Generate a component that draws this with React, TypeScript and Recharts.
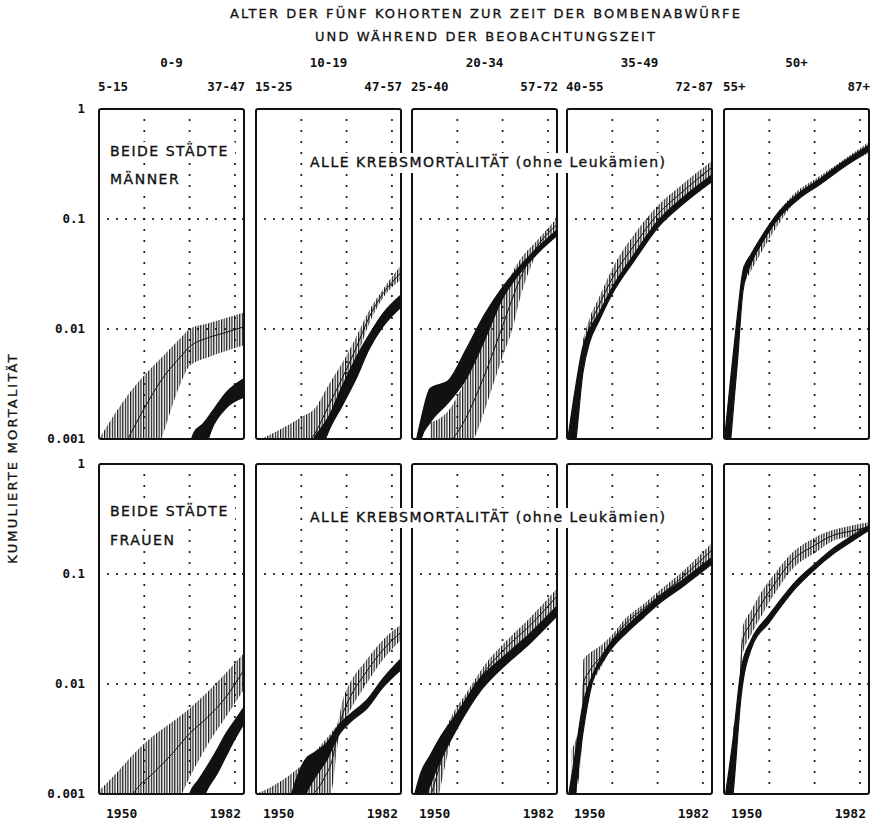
import React from "react";
import { ComposedChart, Area, Line, XAxis, YAxis, ReferenceLine, ReferenceArea } from "recharts";

// observed (hatched band): [year, low, middle, high]
// expected (black band):   [year, low, high]
const M1_OBS = [
  [1950, 0.00004, 0.00025, 0.001],
  [1953, 0.00008, 0.0005, 0.00158],
  [1956, 0.00016, 0.00093, 0.0024],
  [1960, 0.0004, 0.0019, 0.0038],
  [1964, 0.00107, 0.00355, 0.0056],
  [1968, 0.0032, 0.0056, 0.0083],
  [1970, 0.0046, 0.0069, 0.01],
  [1974, 0.0055, 0.0083, 0.0112],
  [1978, 0.0063, 0.0093, 0.0126],
  [1982, 0.0071, 0.0105, 0.0141],
];
const M1_EXP = [
  [1970, 0.00025, 0.00089],
  [1971, 0.00035, 0.00115],
  [1973, 0.00071, 0.00138],
  [1975, 0.00126, 0.00178],
  [1978, 0.0019, 0.00263],
  [1982, 0.0024, 0.00355],
];
const M2_OBS = [
  [1950, 0.0001, 0.00032, 0.00095],
  [1955, 0.0002, 0.0005, 0.0012],
  [1960, 0.0004, 0.00079, 0.00158],
  [1963, 0.00063, 0.00112, 0.0019],
  [1966, 0.00126, 0.002, 0.0031],
  [1969, 0.0025, 0.00355, 0.0049],
  [1972, 0.0051, 0.0066, 0.0083],
  [1975, 0.0112, 0.0129, 0.0148],
  [1978, 0.019, 0.0209, 0.0229],
  [1982, 0.028, 0.0324, 0.038],
];
const M2_EXP = [
  [1962, 0.00032, 0.00089],
  [1963, 0.0005, 0.00105],
  [1966, 0.00117, 0.00158],
  [1969, 0.002, 0.003],
  [1972, 0.00347, 0.0054],
  [1975, 0.0066, 0.0089],
  [1978, 0.0105, 0.0138],
  [1982, 0.0158, 0.0204],
];
const M3_OBS = [
  [1954, 0.00025, 0.00063, 0.00141],
  [1958, 0.0004, 0.00089, 0.0018],
  [1962, 0.00071, 0.00158, 0.00355],
  [1964, 0.00107, 0.0024, 0.0052],
  [1966, 0.0018, 0.0038, 0.0079],
  [1968, 0.0032, 0.0063, 0.0126],
  [1970, 0.0056, 0.0107, 0.02],
  [1972, 0.0095, 0.0182, 0.0316],
  [1974, 0.02, 0.0295, 0.0437],
  [1977, 0.0437, 0.0513, 0.06],
  [1982, 0.079, 0.089, 0.102],
];
const M3_EXP = [
  [1950.5, 0.00016, 0.00079],
  [1952, 0.001, 0.00151],
  [1954, 0.00141, 0.00288],
  [1958, 0.00214, 0.00339],
  [1962, 0.00355, 0.0066],
  [1966, 0.0079, 0.0135],
  [1970, 0.019, 0.024],
  [1974, 0.0331, 0.038],
  [1978, 0.0501, 0.0562],
  [1982, 0.0708, 0.0794],
];
const M4_OBS = [
  [1953.5, 0.005, 0.0063, 0.0079],
  [1955, 0.0089, 0.0107, 0.0126],
  [1957, 0.0138, 0.0162, 0.0191],
  [1960, 0.024, 0.029, 0.0355],
  [1965, 0.0479, 0.0589, 0.0741],
  [1970, 0.0912, 0.11, 0.132],
  [1975, 0.148, 0.17, 0.2],
  [1982, 0.251, 0.295, 0.339],
];
const M4_EXP = [
  [1950, 0.00025, 0.00089],
  [1952, 0.001, 0.00316],
  [1953.5, 0.00398, 0.0069],
  [1955, 0.0076, 0.01],
  [1957, 0.0117, 0.0138],
  [1960, 0.0209, 0.024],
  [1965, 0.0427, 0.049],
  [1970, 0.0832, 0.0955],
  [1976, 0.141, 0.162],
  [1982, 0.219, 0.251],
];
const M5_OBS = [
  [1954, 0.024, 0.0295, 0.0355],
  [1958, 0.0479, 0.0575, 0.0676],
  [1962, 0.0891, 0.102, 0.117],
  [1966, 0.148, 0.162, 0.178],
  [1970, 0.2, 0.214, 0.229],
  [1975, 0.275, 0.295, 0.316],
  [1982, 0.398, 0.447, 0.501],
];
const M5_EXP = [
  [1950, 0.00016, 0.00089],
  [1951.5, 0.001, 0.00363],
  [1953, 0.00525, 0.0138],
  [1954.2, 0.0224, 0.0339],
  [1956, 0.0398, 0.0479],
  [1958, 0.0575, 0.0661],
  [1962, 0.102, 0.115],
  [1967, 0.158, 0.178],
  [1971, 0.204, 0.229],
  [1976, 0.288, 0.324],
  [1982, 0.417, 0.468],
];
const F1_OBS = [
  [1950, 0.000063, 0.00025, 0.00107],
  [1954, 0.0001, 0.0005, 0.00158],
  [1958, 0.00016, 0.00107, 0.0024],
  [1962, 0.00032, 0.00155, 0.00339],
  [1966, 0.00063, 0.00229, 0.00447],
  [1970, 0.00141, 0.00355, 0.006],
  [1974, 0.00282, 0.005, 0.0085],
  [1978, 0.005, 0.0076, 0.0126],
  [1982, 0.0089, 0.0135, 0.0191],
];
const F1_EXP = [
  [1969.5, 0.00032, 0.00079],
  [1970, 0.0004, 0.001],
  [1972, 0.00071, 0.00135],
  [1974, 0.00112, 0.00182],
  [1976, 0.00151, 0.00251],
  [1978, 0.00219, 0.00355],
  [1980, 0.00316, 0.00468],
  [1982, 0.00437, 0.00617],
];
const F2_OBS = [
  [1950, 0.0001, 0.00032, 0.001],
  [1954, 0.00016, 0.00045, 0.0012],
  [1958, 0.00025, 0.00063, 0.00155],
  [1962, 0.0004, 0.00093, 0.00219],
  [1965, 0.00063, 0.00138, 0.003],
  [1967, 0.00126, 0.00219, 0.0038],
  [1968, 0.00282, 0.00355, 0.00437],
  [1969, 0.00398, 0.0051, 0.0068],
  [1971, 0.006, 0.0079, 0.0107],
  [1974, 0.0095, 0.0123, 0.0158],
  [1978, 0.0166, 0.0204, 0.0251],
  [1982, 0.0251, 0.0295, 0.0347],
];
const F2_EXP = [
  [1957.5, 0.00032, 0.00089],
  [1959, 0.00056, 0.00141],
  [1961, 0.001, 0.00209],
  [1963, 0.00141, 0.0024],
  [1965.5, 0.002, 0.00288],
  [1968.5, 0.00355, 0.00437],
  [1971, 0.00457, 0.0054],
  [1974.5, 0.006, 0.0072],
  [1978, 0.0093, 0.0112],
  [1982, 0.0135, 0.017],
];
const F3_OBS = [
  [1953.5, 0.00032, 0.00079, 0.00141],
  [1955, 0.00063, 0.00126, 0.00224],
  [1957, 0.00158, 0.0024, 0.00355],
  [1959, 0.00355, 0.00437, 0.00537],
  [1962, 0.0063, 0.0072, 0.0083],
  [1966, 0.0112, 0.0129, 0.0148],
  [1971, 0.0186, 0.0219, 0.0251],
  [1976, 0.0282, 0.0339, 0.0398],
  [1982, 0.0525, 0.0631, 0.0741],
];
const F3_EXP = [
  [1950, 0.00032, 0.00079],
  [1952, 0.00071, 0.00158],
  [1954, 0.0012, 0.00224],
  [1956, 0.0019, 0.00316],
  [1960, 0.00398, 0.0055],
  [1965, 0.0085, 0.0112],
  [1970, 0.0141, 0.0174],
  [1975, 0.0214, 0.0263],
  [1982, 0.0417, 0.0513],
];
const F4_OBS = [
  [1951, 0.00063, 0.00126, 0.00251],
  [1953.4, 0.00316, 0.00447, 0.0063],
  [1953.6, 0.0056, 0.01, 0.0166],
  [1955, 0.0089, 0.0132, 0.0191],
  [1957.5, 0.0141, 0.0178, 0.0224],
  [1960, 0.0219, 0.0251, 0.0282],
  [1963, 0.0316, 0.0355, 0.0398],
  [1967, 0.0437, 0.049, 0.0537],
  [1971, 0.0589, 0.0661, 0.0741],
  [1976, 0.0871, 0.0977, 0.11],
  [1982, 0.141, 0.166, 0.191],
];
const F4_EXP = [
  [1950, 0.00025, 0.00079],
  [1951.7, 0.00089, 0.00214],
  [1953.5, 0.00355, 0.00646],
  [1955.5, 0.01, 0.0117],
  [1958, 0.0162, 0.0186],
  [1960, 0.0214, 0.0245],
  [1963, 0.0288, 0.0331],
  [1967, 0.0407, 0.0468],
  [1970, 0.0525, 0.0603],
  [1976, 0.0794, 0.0912],
  [1982, 0.123, 0.141],
];
const F5_OBS = [
  [1952, 0.00158, 0.00251, 0.00398],
  [1953.6, 0.0079, 0.01, 0.0126],
  [1954, 0.0178, 0.024, 0.0316],
  [1956, 0.0282, 0.0363, 0.0468],
  [1958, 0.0398, 0.0513, 0.0661],
  [1961.5, 0.0692, 0.0851, 0.105],
  [1965, 0.11, 0.132, 0.155],
  [1970, 0.155, 0.182, 0.214],
  [1974, 0.2, 0.224, 0.251],
  [1978, 0.219, 0.245, 0.275],
  [1982, 0.24, 0.269, 0.295],
];
const F5_EXP = [
  [1950, 0.00025, 0.00079],
  [1952, 0.001, 0.00316],
  [1953.8, 0.0079, 0.0138],
  [1956, 0.0209, 0.0251],
  [1960, 0.0363, 0.0427],
  [1966, 0.0759, 0.0871],
  [1970, 0.11, 0.123],
  [1974, 0.151, 0.17],
  [1978, 0.195, 0.219],
  [1982, 0.251, 0.275],
];

const AGE_GROUPS = ["0-9", "10-19", "20-34", "35-49", "50+"];
const AGE_FIRST = ["5-15", "15-25", "25-40", "40-55", "55+"];
const AGE_LAST = ["37-47", "47-57", "57-72", "72-87", "87+"];
const YEAR_TICKS = [1950, 1982];
const Y_TICKS = [0.001, 0.01, 0.1, 1];
const GRID_YEARS = [1960, 1970, 1980];
const GRID_LEVELS = [0.01, 0.1];

const MEN = [
  [M1_OBS, M1_EXP],
  [M2_OBS, M2_EXP],
  [M3_OBS, M3_EXP],
  [M4_OBS, M4_EXP],
  [M5_OBS, M5_EXP],
];
const WOMEN = [
  [F1_OBS, F1_EXP],
  [F2_OBS, F2_EXP],
  [F3_OBS, F3_EXP],
  [F4_OBS, F4_EXP],
  [F5_OBS, F5_EXP],
];

const INK = "#111";
const MONO = "'DejaVu Sans Mono', monospace";
const SANS = "'DejaVu Sans', sans-serif";
const LEFTS = [99, 256, 412, 567, 724];
const PLOT_W = 145;
const PLOT_H = 330;
const AXIS_H = 30;
const PAD = 10; // room for the y tick labels at the plot edges

function xTick(labels: string[], bottom: boolean) {
  return (props: any) => {
    const { x, y, payload } = props;
    const isFirst = payload.value === YEAR_TICKS[0];
    const dx = isFirst ? (bottom ? 7 : -1) : bottom ? -3 : 1;
    return (
      <text
        x={x + dx}
        y={bottom ? y + 10 : y}
        textAnchor={isFirst ? "start" : "end"}
        fontFamily={MONO}
        fontSize={bottom ? 13 : 12.5}
        fontWeight="bold"
        fill={INK}
      >
        {isFirst ? labels[0] : labels[1]}
      </text>
    );
  };
}

function Panel({ index, bottom, obs, exp }: { index: number; bottom: boolean; obs: number[][]; exp: number[][] }) {
  const first = index === 0;
  const yW = first ? 97 : 0;
  const width = PLOT_W + 4 + yW;
  const height = PLOT_H + AXIS_H + PAD;
  const top = bottom ? 464 - PAD : 109 - AXIS_H;
  const left = LEFTS[index] - 2 - yW;
  const margin = bottom
    ? { top: PAD, right: 2, bottom: 0, left: 2 }
    : { top: 0, right: 2, bottom: PAD, left: 2 };

  const obsData = obs.map(([x, lo, mid, hi]) => ({ x, band: [lo, hi], mid }));
  const expData = exp.map(([x, lo, hi]) => ({ x, band: [lo, hi] }));
  const pid = `hatch-${bottom ? "f" : "m"}-${index}`;
  const labels = bottom ? YEAR_TICKS.map(String) : [AGE_FIRST[index], AGE_LAST[index]];

  return (
    <div style={{ position: "absolute", left, top }}>
      <ComposedChart width={width} height={height} margin={margin}>
        <defs>
          <pattern id={pid} patternUnits="userSpaceOnUse" width={2.6} height={8}>
            <rect x={0} y={0} width={1.2} height={8} fill={INK} />
          </pattern>
        </defs>
        <XAxis
          type="number"
          dataKey="x"
          domain={[1950, 1982]}
          allowDataOverflow
          ticks={YEAR_TICKS}
          interval={0}
          orientation={bottom ? "bottom" : "top"}
          height={AXIS_H}
          axisLine={false}
          tickLine={false}
          tickMargin={bottom ? 8 : 12}
          tick={xTick(labels, bottom)}
        />
        <YAxis
          type="number"
          scale="log"
          domain={[0.001, 1]}
          allowDataOverflow
          ticks={Y_TICKS}
          interval={0}
          hide={!first}
          width={first ? yW : 60}
          axisLine={false}
          tickLine={false}
          tickMargin={8}
          tickFormatter={(v: number) => String(v)}
          tick={{ fontFamily: MONO, fontSize: 12.5, fontWeight: "bold", fill: INK }}
        />
        {GRID_LEVELS.map((v) => (
          <ReferenceLine key={`h${v}`} y={v} stroke={INK} strokeWidth={2.2} strokeDasharray="0 9" strokeLinecap="round" />
        ))}
        {GRID_YEARS.map((v) => (
          <ReferenceLine key={`v${v}`} x={v} stroke={INK} strokeWidth={2.2} strokeDasharray="0 11" strokeLinecap="round" />
        ))}
        <Area
          data={obsData}
          dataKey="band"
          type="monotone"
          fill={`url(#${pid})`}
          fillOpacity={1}
          stroke="none"
          isAnimationActive={false}
          activeDot={false}
        />
        <Line
          data={obsData}
          dataKey="mid"
          type="monotone"
          stroke={INK}
          strokeWidth={1}
          dot={false}
          activeDot={false}
          isAnimationActive={false}
        />
        <Area
          data={expData}
          dataKey="band"
          type="monotone"
          fill={INK}
          fillOpacity={1}
          stroke={INK}
          strokeWidth={1.2}
          isAnimationActive={false}
          activeDot={false}
        />
        <ReferenceArea x1={1950} x2={1982} y1={0.001} y2={1} fill="none" stroke={INK} strokeWidth={2} radius={2} />
      </ComposedChart>
    </div>
  );
}

function Label({ x, y, text, bg }: { x: number; y: number; text: string; bg?: [number, number] }) {
  return (
    <g>
      {bg && <rect x={x - 5} y={y - 14} width={bg[0]} height={bg[1]} fill="#fff" />}
      <text x={x} y={y} fontFamily={SANS} fontSize={14} letterSpacing={1.5} fill={INK} stroke={INK} strokeWidth={0.35}>
        {text}
      </text>
    </g>
  );
}

export default function App() {
  return (
    <div style={{ position: "absolute", left: 0, top: 0, width: 872, height: 833, background: "#fff", overflow: "hidden" }}>
      {MEN.map(([obs, exp], i) => (
        <Panel key={`m${i}`} index={i} bottom={false} obs={obs} exp={exp} />
      ))}
      {WOMEN.map(([obs, exp], i) => (
        <Panel key={`f${i}`} index={i} bottom={true} obs={obs} exp={exp} />
      ))}
      <svg width={872} height={833} style={{ position: "absolute", left: 0, top: 0, pointerEvents: "none" }}>
        <g fontFamily={SANS} fontSize={13} fill={INK} stroke={INK} strokeWidth={0.3} letterSpacing={2.1} textAnchor="middle">
          <text x={486} y={18}>ALTER DER FÜNF KOHORTEN ZUR ZEIT DER BOMBENABWÜRFE</text>
          <text x={486} y={41}>UND WÄHREND DER BEOBACHTUNGSZEIT</text>
        </g>
        {AGE_GROUPS.map((g, i) => (
          <text
            key={g}
            x={LEFTS[i] + PLOT_W / 2}
            y={67}
            textAnchor="middle"
            fontFamily={MONO}
            fontSize={12.5}
            fontWeight="bold"
            fill={INK}
          >
            {g}
          </text>
        ))}
        <g transform="translate(17,458) rotate(-90)">
          <text x={0} y={0} textAnchor="middle" fontFamily={SANS} fontSize={13} letterSpacing={2.2} fill={INK} stroke={INK} strokeWidth={0.3}>
            KUMULIERTE MORTALITÄT
          </text>
        </g>
        <Label x={110} y={156} text="BEIDE STÄDTE" bg={[130, 18]} />
        <Label x={110} y={184} text="MÄNNER" bg={[76, 18]} />
        <Label x={310} y={167} text="ALLE KREBSMORTALITÄT (ohne Leukämien)" bg={[372, 20]} />
        <Label x={110} y={516} text="BEIDE STÄDTE" bg={[130, 18]} />
        <Label x={110} y={545} text="FRAUEN" bg={[76, 18]} />
        <Label x={310} y={522} text="ALLE KREBSMORTALITÄT (ohne Leukämien)" bg={[372, 20]} />
      </svg>
    </div>
  );
}
